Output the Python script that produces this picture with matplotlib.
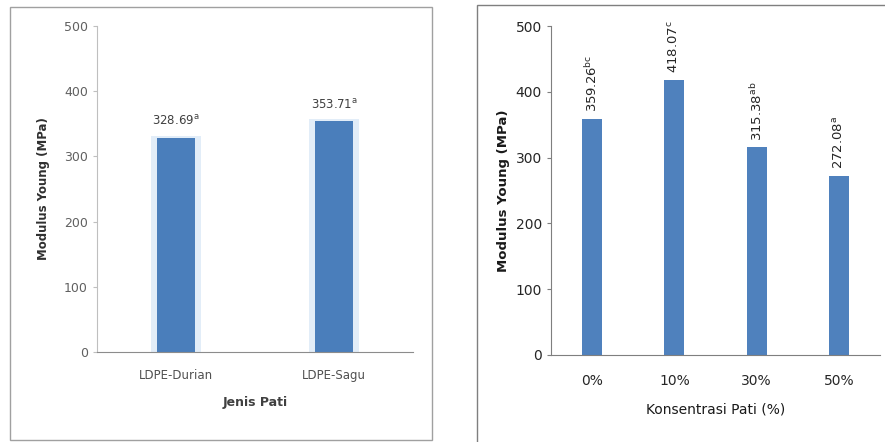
import matplotlib.pyplot as plt
from matplotlib.patches import Rectangle

jenis = ['LDPE-Durian', 'LDPE-Sagu']
modulus_jenis = [328.69, 353.71]
notasi_jenis = ['a', 'a']

konsentrasi = ['0%', '10%', '30%', '50%']
modulus_konsentrasi = [359.26, 418.07, 315.38, 272.08]
notasi_konsentrasi = ['bc', 'c', 'ab', 'a']

fig = plt.figure(figsize=(8.85, 4.42), dpi=100)
W, H = 885, 442

# panel frames
fig.patches.append(Rectangle((10 / W, 1 - 440 / H), 422 / W, 433 / H, transform=fig.transFigure,
                             fill=False, edgecolor='#a0a0a0', linewidth=1.0))
fig.patches.append(Rectangle((477 / W, -0.05), 0.6, 1 - 5 / H + 0.05, transform=fig.transFigure,
                             fill=False, edgecolor='#7f7f7f', linewidth=1.0))

# left chart
ax1 = fig.add_axes([97 / W, 1 - 352 / H, 316 / W, 326 / H])
x1 = range(len(jenis))
ax1.bar(x1, [v + 3 for v in modulus_jenis], width=0.32, color='#e2edf8', zorder=1)
ax1.bar(x1, modulus_jenis, width=0.24, color='#4a7ebb', zorder=2)
for i, v in enumerate(modulus_jenis):
    ax1.text(i, v + 15, f'{v:.2f}$^{{\\mathrm{{{notasi_jenis[i]}}}}}$', ha='center', va='bottom',
             fontsize=8.5, color='#404040')
ax1.set_xlim(-0.5, 1.5)
ax1.set_ylim(0, 500)
ax1.set_yticks([0, 100, 200, 300, 400, 500])
ax1.set_xticks(list(x1))
ax1.set_xticklabels(jenis)
for s in ['top', 'right']:
    ax1.spines[s].set_visible(False)
ax1.spines['left'].set_color('#bfbfbf')
ax1.spines['bottom'].set_color('#8c8c8c')
ax1.tick_params(axis='y', colors='#606060', labelsize=9, length=3, color='#bfbfbf')
ax1.tick_params(axis='x', colors='#505050', labelsize=8.5, length=0, pad=12)
ax1.set_ylabel('Modulus Young (MPa)', fontsize=8.5, fontweight='bold', color='#303030', labelpad=10)
ax1.set_xlabel('Jenis Pati', fontsize=9, fontweight='bold', color='#404040', labelpad=10)

# right chart
ax2 = fig.add_axes([551 / W, 1 - 355 / H, 329 / W, 329 / H])
x2 = range(len(konsentrasi))
ax2.bar(x2, modulus_konsentrasi, width=0.245, color='#4f81bd')
for i, v in enumerate(modulus_konsentrasi):
    ax2.text(i, v + 10, f'{v:.2f}$^{{\\mathrm{{{notasi_konsentrasi[i]}}}}}$', ha='center', va='bottom',
             rotation=90, fontsize=9.5, color='#262626')
ax2.set_xlim(-0.5, 3.5)
ax2.set_ylim(0, 500)
ax2.set_yticks([0, 100, 200, 300, 400, 500])
ax2.set_xticks(list(x2))
ax2.set_xticklabels(konsentrasi)
for s in ['top', 'right']:
    ax2.spines[s].set_visible(False)
ax2.spines['left'].set_color('#7f7f7f')
ax2.spines['bottom'].set_color('#7f7f7f')
ax2.tick_params(axis='y', colors='#262626', labelsize=10, length=3, color='#7f7f7f')
ax2.tick_params(axis='x', colors='#262626', labelsize=10, length=0, pad=14)
ax2.set_ylabel('Modulus Young (MPa)', fontsize=9.5, fontweight='bold', color='#1a1a1a', labelpad=4)
ax2.set_xlabel('Konsentrasi Pati (%)', fontsize=10, color='#1a1a1a', labelpad=10)

fig.savefig('out.png', dpi=100)
